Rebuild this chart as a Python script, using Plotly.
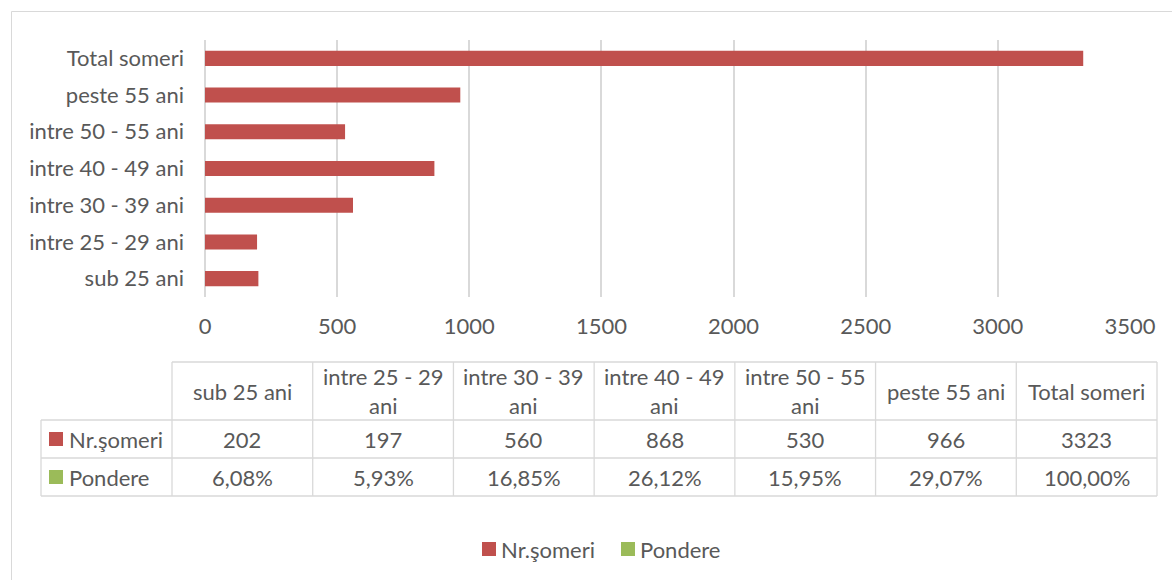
import plotly.graph_objects as go

categories = ["sub 25 ani", "intre 25 - 29 ani", "intre 30 - 39 ani", "intre 40 - 49 ani",
              "intre 50 - 55 ani", "peste 55 ani", "Total someri"]
nr_someri = [202, 197, 560, 868, 530, 966, 3323]
pondere = [6.08, 5.93, 16.85, 26.12, 15.95, 29.07, 100.00]
x_ticks = [0, 500, 1000, 1500, 2000, 2500, 3000, 3500]
series_names = ["Nr.şomeri", "Pondere"]
series_colors = ["#c0504d", "#9bbb59"]

W, H = 1172, 580
L, R, T, B = 205, 1130, 40, 297
GRID = "#d9d9d9"
TXT = "#595959"
FONT = "Lato"
FS = 22


def px(x):
    return (x - L) / (R - L)


def py(y):
    return (B - y) / (B - T)


fig = go.Figure()
fig.add_trace(go.Bar(y=categories, x=nr_someri, orientation="h", name=series_names[0],
                     marker=dict(color=series_colors[0], line=dict(width=0)), showlegend=False))

shapes = []
annotations = []

# outer chart border
shapes.append(dict(type="rect", xref="paper", yref="paper", x0=px(11.5), x1=px(1300),
                   y0=py(11.5), y1=py(700), line=dict(color=GRID, width=1), layer="below"))

# data table
col_edges = [172 + i * (1157 - 172) / len(categories) for i in range(len(categories) + 1)]
row_edges = [362, 420, 458, 496]
left_x = 41
lw = 1.3
shapes.append(dict(type="line", xref="paper", yref="paper", x0=px(col_edges[0]), x1=px(col_edges[-1]),
                   y0=py(row_edges[0]), y1=py(row_edges[0]), line=dict(color=GRID, width=lw)))
for ry in row_edges[1:]:
    shapes.append(dict(type="line", xref="paper", yref="paper", x0=px(left_x), x1=px(col_edges[-1]),
                       y0=py(ry), y1=py(ry), line=dict(color=GRID, width=lw)))
shapes.append(dict(type="line", xref="paper", yref="paper", x0=px(left_x), x1=px(left_x),
                   y0=py(row_edges[1]), y1=py(row_edges[-1]), line=dict(color=GRID, width=lw)))
for cx in col_edges:
    shapes.append(dict(type="line", xref="paper", yref="paper", x0=px(cx), x1=px(cx),
                       y0=py(row_edges[0]), y1=py(row_edges[-1]), line=dict(color=GRID, width=lw)))


def wrap(s):
    if len(s) > 12:
        a, b = s.rsplit(" ", 1)
        return a + "<br>" + b
    return s


row_values = [[str(v) for v in nr_someri],
              [f"{v:.2f}".replace(".", ",") + "%" for v in pondere]]
for i, cat in enumerate(categories):
    cx = (col_edges[i] + col_edges[i + 1]) / 2
    annotations.append(dict(xref="paper", yref="paper", x=px(cx), y=py((row_edges[0] + row_edges[1]) / 2),
                            text=wrap(cat), showarrow=False, xanchor="center", yanchor="middle",
                            font=dict(family=FONT, size=FS, color=TXT)))
    for r in range(2):
        cy = (row_edges[r + 1] + row_edges[r + 2]) / 2
        annotations.append(dict(xref="paper", yref="paper", x=px(cx), y=py(cy),
                                text=row_values[r][i], showarrow=False, xanchor="center", yanchor="middle",
                                font=dict(family=FONT, size=FS, color=TXT)))

for r in range(2):
    cy = (row_edges[r + 1] + row_edges[r + 2]) / 2
    shapes.append(dict(type="rect", xref="paper", yref="paper", x0=px(49), x1=px(63),
                       y0=py(cy - 7), y1=py(cy + 7), fillcolor=series_colors[r], line=dict(width=0)))
    annotations.append(dict(xref="paper", yref="paper", x=px(67), y=py(cy),
                            text=series_names[r], showarrow=False, xanchor="left", yanchor="middle",
                            font=dict(family=FONT, size=FS, color=TXT)))

# legend (bottom)
legend_sq = [482, 621]
leg_y = 549
for r in range(2):
    shapes.append(dict(type="rect", xref="paper", yref="paper", x0=px(legend_sq[r]), x1=px(legend_sq[r] + 14),
                       y0=py(leg_y - 7), y1=py(leg_y + 7), fillcolor=series_colors[r], line=dict(width=0)))
    annotations.append(dict(xref="paper", yref="paper", x=px(legend_sq[r] + 17), y=py(leg_y),
                            text=series_names[r], showarrow=False, xanchor="left", yanchor="middle",
                            font=dict(family=FONT, size=FS, color=TXT)))

fig.update_layout(
    width=W, height=H,
    margin=dict(l=L, r=W - R, t=T, b=H - B),
    paper_bgcolor="white", plot_bgcolor="white",
    font=dict(family=FONT, size=FS, color=TXT),
    barmode="overlay", bargap=0.59,
    shapes=shapes, annotations=annotations,
    showlegend=False,
    xaxis=dict(range=[0, 3500], tickvals=x_ticks, showgrid=True, gridcolor=GRID, gridwidth=1.5,
               zeroline=True, zerolinecolor=GRID, zerolinewidth=1.5, showline=False,
               ticks="", ticklabelstandoff=14, tickfont=dict(family=FONT, size=FS, color=TXT), fixedrange=True),
    yaxis=dict(categoryorder="array", categoryarray=categories, showgrid=False, zeroline=False,
               showline=False, ticks="", ticklabelstandoff=20,
               tickfont=dict(family=FONT, size=FS, color=TXT), fixedrange=True),
)

fig.write_html("out.html", config={"displayModeBar": False},
               post_script="document.body.style.margin='0';")
